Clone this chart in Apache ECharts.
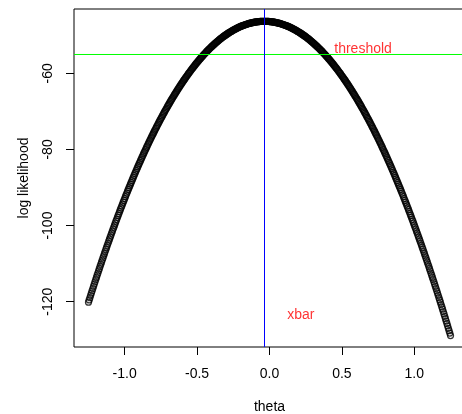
<!DOCTYPE html>
<html><head><meta charset="utf-8">
<script src="https://cdn.jsdelivr.net/npm/echarts@6/dist/echarts.min.js"></script>
<style>html,body{margin:0;padding:0;background:#fff}#c{width:462px;height:414px}</style>
</head><body><div id="c"></div>
<script>
const theta = [
-1.25,-1.245,-1.24,-1.235,-1.23,-1.225,-1.22,-1.215,-1.21,-1.205,
-1.2,-1.195,-1.19,-1.185,-1.18,-1.175,-1.17,-1.165,-1.16,-1.155,-1.15,-1.145,-1.14,-1.135,-1.13,-1.125,-1.12,-1.115,-1.11,-1.105,
-1.1,-1.095,-1.09,-1.085,-1.08,-1.075,-1.07,-1.065,-1.06,-1.055,-1.05,-1.045,-1.04,-1.035,-1.03,-1.025,-1.02,-1.015,-1.01,-1.005,
-1,-0.995,-0.99,-0.985,-0.98,-0.975,-0.97,-0.965,-0.96,-0.955,-0.95,-0.945,-0.94,-0.935,-0.93,-0.925,-0.92,-0.915,-0.91,-0.905,
-0.9,-0.895,-0.89,-0.885,-0.88,-0.875,-0.87,-0.865,-0.86,-0.855,-0.85,-0.845,-0.84,-0.835,-0.83,-0.825,-0.82,-0.815,-0.81,-0.805,
-0.8,-0.795,-0.79,-0.785,-0.78,-0.775,-0.77,-0.765,-0.76,-0.755,-0.75,-0.745,-0.74,-0.735,-0.73,-0.725,-0.72,-0.715,-0.71,-0.705,
-0.7,-0.695,-0.69,-0.685,-0.68,-0.675,-0.67,-0.665,-0.66,-0.655,-0.65,-0.645,-0.64,-0.635,-0.63,-0.625,-0.62,-0.615,-0.61,-0.605,
-0.6,-0.595,-0.59,-0.585,-0.58,-0.575,-0.57,-0.565,-0.56,-0.555,-0.55,-0.545,-0.54,-0.535,-0.53,-0.525,-0.52,-0.515,-0.51,-0.505,
-0.5,-0.495,-0.49,-0.485,-0.48,-0.475,-0.47,-0.465,-0.46,-0.455,-0.45,-0.445,-0.44,-0.435,-0.43,-0.425,-0.42,-0.415,-0.41,-0.405,
-0.4,-0.395,-0.39,-0.385,-0.38,-0.375,-0.37,-0.365,-0.36,-0.355,-0.35,-0.345,-0.34,-0.335,-0.33,-0.325,-0.32,-0.315,-0.31,-0.305,
-0.3,-0.295,-0.29,-0.285,-0.28,-0.275,-0.27,-0.265,-0.26,-0.255,-0.25,-0.245,-0.24,-0.235,-0.23,-0.225,-0.22,-0.215,-0.21,-0.205,
-0.2,-0.195,-0.19,-0.185,-0.18,-0.175,-0.17,-0.165,-0.16,-0.155,-0.15,-0.145,-0.14,-0.135,-0.13,-0.125,-0.12,-0.115,-0.11,-0.105,
-0.1,-0.095,-0.09,-0.085,-0.08,-0.075,-0.07,-0.065,-0.06,-0.055,-0.05,-0.045,-0.04,-0.035,-0.03,-0.025,-0.02,-0.015,-0.01,-0.005,
0,0.005,0.01,0.015,0.02,0.025,0.03,0.035,0.04,0.045,0.05,0.055,0.06,0.065,0.07,0.075,0.08,0.085,0.09,0.095,
0.1,0.105,0.11,0.115,0.12,0.125,0.13,0.135,0.14,0.145,0.15,0.155,0.16,0.165,0.17,0.175,0.18,0.185,0.19,0.195,
0.2,0.205,0.21,0.215,0.22,0.225,0.23,0.235,0.24,0.245,0.25,0.255,0.26,0.265,0.27,0.275,0.28,0.285,0.29,0.295,
0.3,0.305,0.31,0.315,0.32,0.325,0.33,0.335,0.34,0.345,0.35,0.355,0.36,0.365,0.37,0.375,0.38,0.385,0.39,0.395,
0.4,0.405,0.41,0.415,0.42,0.425,0.43,0.435,0.44,0.445,0.45,0.455,0.46,0.465,0.47,0.475,0.48,0.485,0.49,0.495,
0.5,0.505,0.51,0.515,0.52,0.525,0.53,0.535,0.54,0.545,0.55,0.555,0.56,0.565,0.57,0.575,0.58,0.585,0.59,0.595,
0.6,0.605,0.61,0.615,0.62,0.625,0.63,0.635,0.64,0.645,0.65,0.655,0.66,0.665,0.67,0.675,0.68,0.685,0.69,0.695,
0.7,0.705,0.71,0.715,0.72,0.725,0.73,0.735,0.74,0.745,0.75,0.755,0.76,0.765,0.77,0.775,0.78,0.785,0.79,0.795,
0.8,0.805,0.81,0.815,0.82,0.825,0.83,0.835,0.84,0.845,0.85,0.855,0.86,0.865,0.87,0.875,0.88,0.885,0.89,0.895,
0.9,0.905,0.91,0.915,0.92,0.925,0.93,0.935,0.94,0.945,0.95,0.955,0.96,0.965,0.97,0.975,0.98,0.985,0.99,0.995,
1,1.005,1.01,1.015,1.02,1.025,1.03,1.035,1.04,1.045,1.05,1.055,1.06,1.065,1.07,1.075,1.08,1.085,1.09,1.095,
1.1,1.105,1.11,1.115,1.12,1.125,1.13,1.135,1.14,1.145,1.15,1.155,1.16,1.165,1.17,1.175,1.18,1.185,1.19,1.195,
1.2,1.205,1.21,1.215,1.22,1.225,1.23,1.235,1.24,1.245,1.25];
const loglik = [
-120.14,-119.54,-118.93,-118.33,-117.73,-117.14,-116.54,-115.95,-115.36,-114.78,
-114.19,-113.61,-113.03,-112.46,-111.88,-111.31,-110.74,-110.18,-109.61,-109.05,
-108.49,-107.94,-107.38,-106.83,-106.28,-105.74,-105.19,-104.65,-104.11,-103.58,
-103.04,-102.51,-101.98,-101.46,-100.93,-100.41,-99.89,-99.38,-98.86,-98.35,
-97.84,-97.34,-96.83,-96.33,-95.83,-95.34,-94.84,-94.35,-93.86,-93.38,
-92.89,-92.41,-91.93,-91.46,-90.98,-90.51,-90.04,-89.58,-89.11,-88.65,
-88.19,-87.74,-87.28,-86.83,-86.38,-85.94,-85.49,-85.05,-84.61,-84.18,
-83.74,-83.31,-82.88,-82.46,-82.03,-81.61,-81.19,-80.78,-80.36,-79.95,
-79.54,-79.14,-78.73,-78.33,-77.93,-77.54,-77.14,-76.75,-76.36,-75.98,
-75.59,-75.21,-74.83,-74.46,-74.08,-73.71,-73.34,-72.98,-72.61,-72.25,
-71.89,-71.54,-71.18,-70.83,-70.48,-70.14,-69.79,-69.45,-69.11,-68.78,
-68.44,-68.11,-67.78,-67.46,-67.13,-66.81,-66.49,-66.18,-65.86,-65.55,
-65.24,-64.94,-64.63,-64.33,-64.03,-63.74,-63.44,-63.15,-62.86,-62.58,
-62.29,-62.01,-61.73,-61.46,-61.18,-60.91,-60.64,-60.38,-60.11,-59.85,
-59.59,-59.34,-59.08,-58.83,-58.58,-58.34,-58.09,-57.85,-57.61,-57.38,
-57.14,-56.91,-56.68,-56.46,-56.23,-56.01,-55.79,-55.58,-55.36,-55.15,
-54.94,-54.74,-54.53,-54.33,-54.13,-53.94,-53.74,-53.55,-53.36,-53.18,
-52.99,-52.81,-52.63,-52.46,-52.28,-52.11,-51.94,-51.78,-51.61,-51.45,
-51.29,-51.14,-50.98,-50.83,-50.68,-50.54,-50.39,-50.25,-50.11,-49.98,
-49.84,-49.71,-49.58,-49.46,-49.33,-49.21,-49.09,-48.98,-48.86,-48.75,
-48.64,-48.54,-48.43,-48.33,-48.23,-48.14,-48.04,-47.95,-47.86,-47.78,
-47.69,-47.61,-47.53,-47.46,-47.38,-47.31,-47.24,-47.18,-47.11,-47.05,
-46.99,-46.94,-46.88,-46.83,-46.78,-46.74,-46.69,-46.65,-46.61,-46.58,
-46.54,-46.51,-46.48,-46.46,-46.43,-46.41,-46.39,-46.38,-46.36,-46.35,
-46.34,-46.34,-46.33,
-46.33,
-46.33,-46.34,-46.34,-46.35,-46.36,-46.38,-46.39,-46.41,-46.43,-46.46,
-46.48,-46.51,-46.54,-46.58,-46.61,-46.65,-46.69,-46.74,-46.78,-46.83,
-46.88,-46.94,-46.99,-47.05,-47.11,-47.18,-47.24,-47.31,-47.38,-47.46,
-47.53,-47.61,-47.69,-47.78,-47.86,-47.95,-48.04,-48.14,-48.23,-48.33,
-48.43,-48.54,-48.64,-48.75,-48.86,-48.98,-49.09,-49.21,-49.33,-49.46,
-49.58,-49.71,-49.84,-49.98,-50.11,-50.25,-50.39,-50.54,-50.68,-50.83,
-50.98,-51.14,-51.29,-51.45,-51.61,-51.78,-51.94,-52.11,-52.28,-52.46,
-52.63,-52.81,-52.99,-53.18,-53.36,-53.55,-53.74,-53.94,-54.13,-54.33,
-54.53,-54.74,-54.94,-55.15,-55.36,-55.58,-55.79,-56.01,-56.23,-56.46,
-56.68,-56.91,-57.14,-57.38,-57.61,-57.85,-58.09,-58.34,-58.58,-58.83,
-59.08,-59.34,-59.59,-59.85,-60.11,-60.38,-60.64,-60.91,-61.18,-61.46,
-61.73,-62.01,-62.29,-62.58,-62.86,-63.15,-63.44,-63.74,-64.03,-64.33,
-64.63,-64.94,-65.24,-65.55,-65.86,-66.18,-66.49,-66.81,-67.13,-67.46,
-67.78,-68.11,-68.44,-68.78,-69.11,-69.45,-69.79,-70.14,-70.48,-70.83,
-71.18,-71.54,-71.89,-72.25,-72.61,-72.98,-73.34,-73.71,-74.08,-74.46,
-74.83,-75.21,-75.59,-75.98,-76.36,-76.75,-77.14,-77.54,-77.93,-78.33,
-78.73,-79.14,-79.54,-79.95,-80.36,-80.78,-81.19,-81.61,-82.03,-82.46,
-82.88,-83.31,-83.74,-84.18,-84.61,-85.05,-85.49,-85.94,-86.38,-86.83,
-87.28,-87.74,-88.19,-88.65,-89.11,-89.58,-90.04,-90.51,-90.98,-91.46,
-91.93,-92.41,-92.89,-93.38,-93.86,-94.35,-94.84,-95.34,-95.83,-96.33,
-96.83,-97.34,-97.84,-98.35,-98.86,-99.38,-99.89,-100.41,-100.93,-101.46,
-101.98,-102.51,-103.04,-103.58,-104.11,-104.65,-105.19,-105.74,-106.28,-106.83,
-107.38,-107.94,-108.49,-109.05,-109.61,-110.18,-110.74,-111.31,-111.88,-112.46,
-113.03,-113.61,-114.19,-114.78,-115.36,-115.95,-116.54,-117.14,-117.73,-118.33,
-118.93,-119.54,-120.14,-120.75,-121.36,-121.98,-122.59,-123.21,-123.83,-124.46,
-125.08,-125.71,-126.34,-126.98,-127.61,-128.25,-128.89];
const xTicks = [-1, -0.5, 0, 0.5, 1];
const yTicks = [-120, -100, -80, -60];
const xRange = [-1.35, 1.35];
const yRange = [-131.9, -43.1];
const threshold = -55.05;
const xbar = -0.0345;
const noteX = [0.646, 0.216];
const noteY = [-55.05, -124.9];
const noteText = ['threshold', 'xbar'];

const FONT = "'Liberation Sans', Arial, Helvetica, sans-serif";
const FS = 14;
const n = Math.min(theta.length, loglik.length);
const points = [];
for (let i = 0; i < n; i++) points.push([theta[i], loglik[i]]);
const notes = noteX.map((x, i) => ({ value: [x, noteY[i]], label: { formatter: noteText[i] } }));

const chart = echarts.init(document.getElementById('c'), null, { renderer: 'canvas' });
chart.setOption({
  animation: false,
  backgroundColor: '#ffffff',
  grid: { left: 74, top: 9, width: 391, height: 338, show: true, borderColor: '#000', borderWidth: 1,
          backgroundColor: 'transparent', outerBoundsMode: 'none', containLabel: false },
  xAxis: {
    type: 'value', min: xRange[0], max: xRange[1],
    name: 'theta', nameLocation: 'middle', nameGap: 53.5,
    nameTextStyle: { color: '#000', fontSize: FS, fontFamily: FONT },
    axisLine: { show: false, onZero: false },
    splitLine: { show: false },
    axisTick: { show: true, length: 8, lineStyle: { color: '#000', width: 1 }, customValues: xTicks },
    axisLabel: { color: '#000', fontSize: FS, fontFamily: FONT, margin: 20, customValues: xTicks,
                 formatter: v => Number(v).toFixed(1) }
  },
  yAxis: {
    type: 'value', min: yRange[0], max: yRange[1],
    name: 'log likelihood', nameLocation: 'middle', nameGap: 42.5,
    nameTextStyle: { color: '#000', fontSize: FS, fontFamily: FONT },
    axisLine: { show: false, onZero: false },
    splitLine: { show: false },
    axisTick: { show: true, length: 8, lineStyle: { color: '#000', width: 1 }, customValues: yTicks },
    axisLabel: { color: '#000', fontSize: FS, fontFamily: FONT, margin: 19, rotate: 90, customValues: yTicks,
                 formatter: v => String(v) }
  },
  series: [
    {
      type: 'scatter', data: points, symbol: 'circle', symbolSize: 6, large: false, z: 2,
      itemStyle: { color: 'rgba(0,0,0,0)', borderColor: '#000', borderWidth: 1.25 },
      emphasis: { disabled: true }, silent: true, clip: false
    },
    {
      type: 'line', data: [[xRange[0], threshold], [xRange[1], threshold]], z: 3,
      symbol: 'none', silent: true, color: '#00FF00',
      lineStyle: { color: '#00FF00', width: 1, type: 'solid' }
    },
    {
      type: 'line', data: [[xbar, yRange[0]], [xbar, yRange[1]]], z: 4,
      symbol: 'none', silent: true, color: '#0000FF',
      lineStyle: { color: '#0000FF', width: 1, type: 'solid' }
    },
    {
      type: 'scatter', data: notes, symbol: 'circle', symbolSize: 0, silent: true, z: 5,
      itemStyle: { color: 'rgba(0,0,0,0)' },
      label: { show: true, position: 'top', distance: 0, offset: [0, 2], color: '#FF0000',
               fontSize: FS, fontFamily: FONT }
    }
  ]
});
</script>
</body></html>
